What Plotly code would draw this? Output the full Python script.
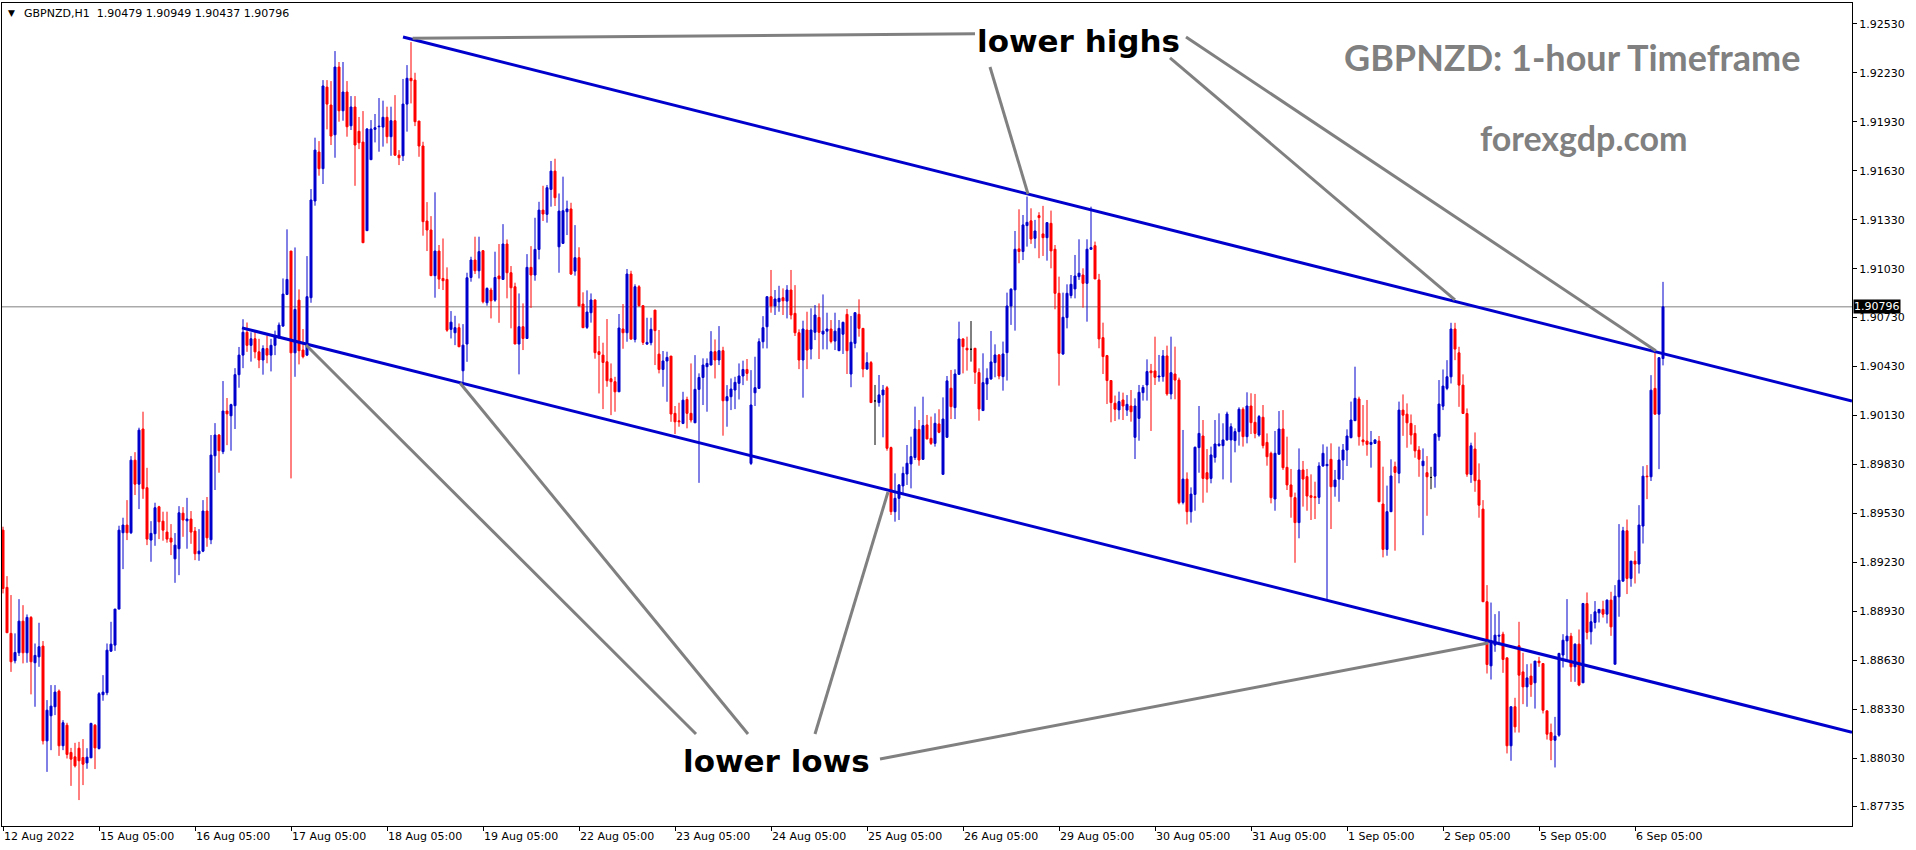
import plotly.graph_objects as go

# ---------------- data (GBPNZD H1, 12 Aug 2022 05:00 -> 6 Sep 2022 12:00) ----------------
opens = [
1.89427,1.89076,1.88794,1.88626,1.88675,1.88869,1.88675,1.88892,1.88614,1.88650,
1.88716,1.88135,1.88289,1.88344,1.88440,1.88105,1.88231,1.88064,1.88037,1.88090,
1.88033,1.88000,1.88031,1.88231,1.88088,1.88418,1.88430,1.88685,1.88722,1.88943,
1.89411,1.89458,1.89411,1.89856,1.89709,1.90047,1.89687,1.89366,1.89405,1.89570,
1.89482,1.89415,1.89378,1.89251,1.89313,1.89531,1.89484,1.89495,1.89421,1.89282,
1.89298,1.89544,1.89368,1.89883,1.90010,1.89908,1.90157,1.90128,1.90190,1.90380,
1.90500,1.90640,1.90560,1.90600,1.90520,1.90470,1.90540,1.90500,1.90560,1.90613,
1.90678,1.90872,1.91138,1.90514,1.90837,1.90531,1.90500,1.90852,1.91445,1.91745,
1.91643,1.92143,1.92033,1.91851,1.92266,1.91998,1.92113,1.91906,1.92021,1.91872,
1.91806,1.91263,1.91698,1.91884,1.91900,1.91898,1.91958,1.91839,1.91937,1.91726,
1.91722,1.92039,1.92197,1.92186,1.91935,1.91782,1.91322,1.91267,1.90987,1.91138,
1.90970,1.90964,1.90658,1.90637,1.90668,1.90404,1.90568,1.90976,1.91083,1.91017,
1.91140,1.90821,1.90899,1.90837,1.90985,1.90964,1.91181,1.91005,1.90919,1.90568,
1.90674,1.90602,1.91038,1.90991,1.91148,1.91389,1.91363,1.91516,1.91628,1.91164,
1.91185,1.91379,1.91396,1.91015,1.91097,1.90813,1.90670,1.90760,1.90838,1.90521,
1.90500,1.90459,1.90355,1.90337,1.90275,1.90660,1.90637,1.90997,1.90596,1.90919,
1.90803,1.90568,1.90576,1.90776,1.90506,1.90412,1.90464,1.90494,1.90143,1.90097,
1.90081,1.90228,1.90143,1.90085,1.90290,1.90363,1.90429,1.90439,1.90521,1.90470,
1.90527,1.90220,1.90245,1.90286,1.90327,1.90372,1.90412,1.89836,1.90269,1.90296,
1.90582,1.90674,1.90858,1.90801,1.90827,1.90852,1.90831,1.90899,1.90756,1.90637,
1.90470,1.90654,1.90537,1.90640,1.90731,1.90629,1.90647,1.90660,1.90586,1.90527,
1.90628,1.90750,1.90384,1.90572,1.90750,1.90664,1.90415,1.90454,1.90219,1.90209,
1.90256,1.90300,1.89933,1.89540,1.89622,1.89698,1.89771,1.89833,1.89872,1.90045,
1.89861,1.90072,1.89990,1.89959,1.90078,1.89769,1.89996,1.90297,1.90178,1.90382,
1.90599,1.90542,1.90536,1.90542,1.90393,1.90160,1.90323,1.90354,1.90454,1.90501,
1.90368,1.90515,1.90801,1.90900,1.91151,1.91135,1.91294,1.91323,1.91216,1.91355,
1.91243,1.91220,1.91308,1.91149,1.90879,1.90507,1.90730,1.90865,1.90906,1.90981,
1.90991,1.90940,1.91149,1.91171,1.90961,1.90607,1.90497,1.90344,1.90205,1.90164,
1.90225,1.90163,1.90188,1.89996,1.90112,1.90270,1.90317,1.90403,1.90403,1.90366,
1.90368,1.90495,1.90262,1.90384,1.90347,1.89597,1.89740,1.89540,1.89646,1.89933,
1.90004,1.89779,1.89744,1.89873,1.89945,1.89945,1.89980,1.89980,1.89976,1.90031,
1.90168,1.90000,1.90188,1.90088,1.90010,1.90119,1.89965,1.89898,1.89618,1.89892,
1.90047,1.89812,1.89704,1.89626,1.89473,1.89796,1.89755,1.89638,1.89632,1.89628,
1.89820,1.89822,1.89861,1.89693,1.89740,1.89857,1.89918,1.89994,1.90098,1.90231,
1.89980,1.89973,1.89953,1.89959,1.89973,1.89587,1.89309,1.89540,1.89816,1.89775,
1.90163,1.90138,1.90081,1.90020,1.89918,1.89822,1.89779,1.89750,1.89758,1.90000,
1.90187,1.90296,1.90367,1.90660,1.90514,1.90316,1.90142,1.89768,1.89924,1.89734,
1.89556,1.88988,1.88595,1.88722,1.88777,1.88789,1.88644,1.88105,1.88344,1.88718,
1.88558,1.88466,1.88532,1.88491,1.88624,1.88609,1.88319,1.88186,1.88139,1.88170,
1.88661,1.88748,1.88777,1.88589,1.88728,1.88491,1.88977,1.88804,1.88861,1.88920,
1.88941,1.88912,1.88998,1.88605,1.89018,1.89114,1.89423,1.89131,1.89237,1.89219,
1.89452,1.89758,1.89754,1.90296,1.90138,1.90479]

highs = [
1.89448,1.89145,1.89029,1.88794,1.89004,1.88967,1.88910,1.88900,1.88732,1.88859,
1.88747,1.88385,1.88477,1.88477,1.88450,1.88262,1.88246,1.88092,1.88123,1.88129,
1.88146,1.88090,1.88246,1.88238,1.88434,1.88538,1.88732,1.88865,1.88943,1.89454,
1.89503,1.89611,1.89881,1.89905,1.90055,1.90153,1.89809,1.89482,1.89595,1.89576,
1.89540,1.89540,1.89464,1.89409,1.89574,1.89568,1.89625,1.89544,1.89446,1.89433,
1.89611,1.89630,1.90010,1.90083,1.90016,1.90341,1.90237,1.90202,1.90420,1.90550,
1.90720,1.90700,1.90640,1.90650,1.90600,1.90560,1.90620,1.90600,1.90650,1.90700,
1.90970,1.91271,1.91138,1.91160,1.90903,1.90660,1.91107,1.91518,1.91833,1.91812,
1.92186,1.92186,1.92180,1.92364,1.92297,1.92297,1.92180,1.92088,1.92088,1.91960,
1.91996,1.91892,1.91941,1.91978,1.92076,1.92060,1.92023,1.92023,1.92094,1.91757,
1.92193,1.92278,1.92419,1.92231,1.91935,1.91808,1.91438,1.91352,1.91498,1.91175,
1.91215,1.91038,1.90770,1.90741,1.90694,1.90690,1.91005,1.91103,1.91226,1.91226,
1.91144,1.90915,1.90913,1.91134,1.91181,1.91303,1.91209,1.91046,1.90944,1.90878,
1.90817,1.91119,1.91168,1.91342,1.91440,1.91538,1.91543,1.91690,1.91704,1.91491,
1.91594,1.91447,1.91434,1.91297,1.91161,1.90885,1.90897,1.90878,1.90842,1.90617,
1.90576,1.90721,1.90449,1.90367,1.90752,1.90813,1.91028,1.91017,1.90934,1.90929,
1.90803,1.90729,1.90729,1.90776,1.90654,1.90525,1.90521,1.90494,1.90188,1.90208,
1.90275,1.90245,1.90449,1.90500,1.90388,1.90480,1.90480,1.90647,1.90596,1.90678,
1.90551,1.90316,1.90357,1.90367,1.90449,1.90466,1.90476,1.90408,1.90490,1.90603,
1.90739,1.90858,1.91022,1.90899,1.90925,1.90909,1.90929,1.91022,1.90929,1.90658,
1.90711,1.90766,1.90787,1.90807,1.90817,1.90872,1.90760,1.90715,1.90760,1.90715,
1.90705,1.90783,1.90740,1.90760,1.90842,1.90664,1.90517,1.90464,1.90317,1.90378,
1.90317,1.90311,1.89939,1.89775,1.89710,1.89816,1.89949,1.90000,1.90184,1.90102,
1.90245,1.90133,1.90123,1.90143,1.90168,1.90241,1.90372,1.90409,1.90413,1.90705,
1.90603,1.90613,1.90709,1.90542,1.90419,1.90511,1.90419,1.90648,1.90566,1.90507,
1.90583,1.90883,1.90910,1.91261,1.91394,1.91359,1.91472,1.91400,1.91329,1.91376,
1.91415,1.91314,1.91386,1.91175,1.90981,1.90883,1.90934,1.90991,1.91114,1.91210,
1.91032,1.91210,1.91410,1.91196,1.90998,1.90699,1.90501,1.90344,1.90252,1.90276,
1.90270,1.90255,1.90286,1.90235,1.90317,1.90317,1.90474,1.90446,1.90613,1.90501,
1.90531,1.90558,1.90613,1.90552,1.90362,1.90041,1.89781,1.89689,1.89939,1.90188,
1.90102,1.89924,1.89939,1.90102,1.90143,1.90082,1.90153,1.90082,1.90051,1.90180,
1.90180,1.90272,1.90266,1.90262,1.90133,1.90194,1.90020,1.89908,1.90035,1.90157,
1.90163,1.90000,1.89802,1.89657,1.89928,1.89851,1.89802,1.89769,1.89724,1.89843,
1.89953,1.89939,1.89959,1.89796,1.89939,1.89955,1.90045,1.90215,1.90429,1.90245,
1.90194,1.90225,1.90035,1.89984,1.90004,1.89816,1.89700,1.89861,1.89847,1.90215,
1.90259,1.90204,1.90136,1.90071,1.89942,1.89928,1.89881,1.89815,1.90020,1.90347,
1.90412,1.90469,1.90698,1.90698,1.90551,1.90382,1.90173,1.89963,1.90026,1.89836,
1.89611,1.89090,1.88983,1.88912,1.88930,1.88804,1.88644,1.88344,1.88399,1.88865,
1.88675,1.88605,1.88609,1.88624,1.88650,1.88609,1.88319,1.88241,1.88282,1.88675,
1.88789,1.89004,1.88797,1.88732,1.88818,1.88981,1.89045,1.88912,1.88992,1.88943,
1.88994,1.89002,1.89049,1.89090,1.89464,1.89447,1.89492,1.89237,1.89298,1.89580,
1.89819,1.89826,1.90377,1.90525,1.90486,1.90949]

lows = [
1.89039,1.88798,1.88558,1.88610,1.88655,1.88610,1.88614,1.88420,1.88344,1.88589,
1.88113,1.87945,1.88078,1.88293,1.88043,1.88078,1.88027,1.87859,1.87972,1.87772,
1.87864,1.87964,1.88031,1.87962,1.88082,1.88381,1.88415,1.88681,1.88687,1.88943,
1.89188,1.89366,1.89403,1.89642,1.89556,1.89619,1.89335,1.89233,1.89331,1.89372,
1.89362,1.89350,1.89274,1.89104,1.89151,1.89386,1.89313,1.89343,1.89243,1.89239,
1.89292,1.89325,1.89341,1.89673,1.89779,1.89893,1.89948,1.89914,1.90047,1.90300,
1.90420,1.90520,1.90460,1.90480,1.90420,1.90380,1.90450,1.90400,1.90500,1.90600,
1.90674,1.90868,1.89744,1.90367,1.90443,1.90480,1.90494,1.90821,1.91416,1.91600,
1.91549,1.91884,1.91788,1.91710,1.91931,1.91937,1.91839,1.91880,1.91538,1.91763,
1.91189,1.91263,1.91698,1.91804,1.91747,1.91778,1.91798,1.91722,1.91722,1.91665,
1.91690,1.91870,1.92043,1.91904,1.91716,1.91232,1.91138,1.90987,1.90852,1.90905,
1.90899,1.90643,1.90602,1.90561,1.90551,1.90330,1.90459,1.90950,1.90997,1.90970,
1.90817,1.90803,1.90725,1.90827,1.90698,1.90964,1.90848,1.90664,1.90568,1.90382,
1.90531,1.90602,1.90790,1.90956,1.91087,1.91322,1.91312,1.91410,1.91414,1.91005,
1.91181,1.91236,1.90991,1.90987,1.90801,1.90668,1.90660,1.90699,1.90478,1.90265,
1.90169,1.90306,1.90132,1.90153,1.90275,1.90539,1.90582,1.90598,1.90578,1.90797,
1.90562,1.90562,1.90560,1.90439,1.90388,1.90306,1.90214,1.90091,1.90016,1.90061,
1.90077,1.90051,1.90087,1.90085,1.89717,1.90194,1.90153,1.90439,1.90357,1.90439,
1.90006,1.90061,1.90163,1.90169,1.90228,1.90316,1.90343,1.89826,1.90188,1.90294,
1.90541,1.90541,1.90760,1.90746,1.90766,1.90746,1.90725,1.90719,1.90617,1.90414,
1.90239,1.90414,1.90474,1.90592,1.90476,1.90535,1.90535,1.90572,1.90531,1.90527,
1.90507,1.90384,1.90303,1.90542,1.90613,1.90364,1.90409,1.90209,1.89949,1.90184,
1.89996,1.89914,1.89520,1.89479,1.89489,1.89642,1.89704,1.89683,1.89857,1.89822,
1.89857,1.89984,1.89949,1.89939,1.90021,1.89769,1.89996,1.90108,1.90108,1.90382,
1.90388,1.90405,1.90460,1.90323,1.90098,1.90160,1.90225,1.90348,1.90364,1.90352,
1.90282,1.90344,1.90685,1.90650,1.91063,1.91083,1.91165,1.91182,1.91155,1.91094,
1.91108,1.91079,1.91032,1.90781,1.90313,1.90501,1.90664,1.90848,1.90848,1.90961,
1.90791,1.90705,1.91145,1.90967,1.90542,1.90384,1.90200,1.90088,1.90096,1.90106,
1.90102,1.90127,1.90092,1.89863,1.89975,1.90221,1.90221,1.90035,1.90317,1.90337,
1.90337,1.90251,1.90229,1.90229,1.89585,1.89585,1.89462,1.89473,1.89546,1.89779,
1.89595,1.89657,1.89714,1.89841,1.89939,1.89738,1.89976,1.89718,1.89904,1.89945,
1.89939,1.89959,1.90016,1.89990,1.90000,1.89928,1.89822,1.89591,1.89546,1.89892,
1.89796,1.89673,1.89503,1.89227,1.89377,1.89571,1.89546,1.89489,1.89495,1.89587,
1.89816,1.88998,1.89434,1.89632,1.89601,1.89734,1.89820,1.89990,1.90098,1.89945,
1.89945,1.89883,1.89810,1.89955,1.89601,1.89260,1.89270,1.89540,1.89301,1.89714,
1.90005,1.89932,1.89952,1.89871,1.89754,1.89396,1.89515,1.89678,1.89687,1.89975,
1.90163,1.90285,1.90326,1.90469,1.90183,1.90142,1.89754,1.89717,1.89662,1.89503,
1.88988,1.88548,1.88511,1.88681,1.88722,1.88552,1.88058,1.88013,1.88186,1.88186,
1.88360,1.88344,1.88405,1.88333,1.88589,1.88303,1.88143,1.88017,1.87972,1.88160,
1.88585,1.88626,1.88497,1.88497,1.88470,1.88491,1.88757,1.88726,1.88824,1.88861,
1.88891,1.88855,1.88779,1.88605,1.88896,1.89114,1.89035,1.89080,1.89100,1.89161,
1.89345,1.89617,1.89728,1.90138,1.89801,1.90437]

closes = [
1.89069,1.88798,1.88620,1.88677,1.88869,1.88675,1.88892,1.88620,1.88659,1.88712,
1.88135,1.88323,1.88348,1.88434,1.88105,1.88246,1.88052,1.88023,1.87982,1.88013,
1.87992,1.88035,1.88242,1.88092,1.88424,1.88434,1.88691,1.88728,1.88943,1.89427,
1.89458,1.89411,1.89856,1.89709,1.90040,1.89681,1.89372,1.89407,1.89564,1.89478,
1.89427,1.89372,1.89354,1.89335,1.89533,1.89489,1.89495,1.89415,1.89282,1.89298,
1.89544,1.89380,1.89887,1.90010,1.89914,1.90157,1.90140,1.90196,1.90380,1.90500,
1.90640,1.90560,1.90600,1.90520,1.90470,1.90540,1.90500,1.90560,1.90613,1.90684,
1.90874,1.90964,1.90514,1.90780,1.90527,1.90490,1.90858,1.91451,1.91757,1.91643,
1.92150,1.92039,1.91843,1.92266,1.91998,1.92113,1.91900,1.92021,1.91788,1.91802,
1.91189,1.91886,1.91886,1.91894,1.91904,1.91958,1.91839,1.91937,1.91726,1.91710,
1.92039,1.92197,1.92182,1.91931,1.91782,1.91318,1.91267,1.90987,1.91138,1.90966,
1.90956,1.90653,1.90702,1.90668,1.90551,1.90561,1.90974,1.91083,1.91017,1.91134,
1.90827,1.90909,1.90833,1.90976,1.90968,1.91181,1.91005,1.90913,1.90568,1.90674,
1.90602,1.91038,1.90991,1.91148,1.91389,1.91365,1.91526,1.91628,1.91465,1.91383,
1.91385,1.91396,1.90997,1.91097,1.90801,1.90668,1.90764,1.90838,1.90515,1.90504,
1.90455,1.90343,1.90337,1.90275,1.90666,1.90637,1.90997,1.90598,1.90919,1.90803,
1.90578,1.90578,1.90658,1.90650,1.90412,1.90464,1.90486,1.90139,1.90091,1.90091,
1.90224,1.90143,1.90102,1.90290,1.90363,1.90439,1.90449,1.90521,1.90470,1.90527,
1.90220,1.90245,1.90292,1.90333,1.90372,1.90412,1.90388,1.90194,1.90300,1.90582,
1.90668,1.90858,1.90801,1.90844,1.90848,1.90833,1.90899,1.90746,1.90637,1.90470,
1.90660,1.90531,1.90654,1.90746,1.90640,1.90647,1.90660,1.90584,1.90647,1.90664,
1.90701,1.90527,1.90579,1.90760,1.90664,1.90415,1.90454,1.90209,1.90219,1.90256,
1.90286,1.89929,1.89540,1.89622,1.89704,1.89775,1.89837,1.89878,1.90047,1.89857,
1.90068,1.89986,1.89959,1.90082,1.90027,1.90108,1.90342,1.90184,1.90384,1.90599,
1.90552,1.90532,1.90536,1.90395,1.90170,1.90331,1.90358,1.90458,1.90501,1.90372,
1.90507,1.90801,1.90904,1.91149,1.91135,1.91298,1.91314,1.91212,1.91261,1.91343,
1.91220,1.91312,1.91139,1.90879,1.90511,1.90732,1.90879,1.90934,1.90985,1.91002,
1.90940,1.91149,1.91159,1.90967,1.90599,1.90491,1.90344,1.90209,1.90168,1.90215,
1.90188,1.90198,1.90153,1.90188,1.90272,1.90302,1.90399,1.90392,1.90364,1.90372,
1.90495,1.90262,1.90392,1.90347,1.89595,1.89740,1.89540,1.89648,1.89935,1.90020,
1.89744,1.89740,1.89888,1.89955,1.89955,1.89980,1.90139,1.90061,1.90031,1.90168,
1.90000,1.90188,1.90086,1.90020,1.90123,1.89945,1.89877,1.89626,1.89898,1.90047,
1.89810,1.89704,1.89632,1.89473,1.89796,1.89740,1.89636,1.89628,1.89626,1.89820,
1.89898,1.89830,1.89693,1.89734,1.89857,1.89918,1.90004,1.90102,1.90235,1.90000,
1.89969,1.89953,1.89965,1.89980,1.89601,1.89309,1.89540,1.89759,1.89781,1.90163,
1.90132,1.90085,1.90010,1.89913,1.89862,1.89850,1.89754,1.89750,1.90016,1.90200,
1.90310,1.90367,1.90660,1.90537,1.90316,1.90142,1.89770,1.89944,1.89730,1.89580,
1.88988,1.88603,1.88748,1.88783,1.88783,1.88634,1.88105,1.88344,1.88221,1.88538,
1.88466,1.88521,1.88481,1.88624,1.88614,1.88323,1.88176,1.88139,1.88164,1.88671,
1.88752,1.88777,1.88589,1.88728,1.88477,1.88977,1.88800,1.88865,1.88926,1.88941,
1.88912,1.88998,1.88834,1.89022,1.89120,1.89423,1.89131,1.89237,1.89219,1.89458,
1.89758,1.89754,1.90285,1.90138,1.90484,1.90796]

# x-axis day labels (one label every 24 hourly bars, starting at bar 0)
day_labels = ["12 Aug 2022", "15 Aug 05:00", "16 Aug 05:00", "17 Aug 05:00", "18 Aug 05:00",
              "19 Aug 05:00", "22 Aug 05:00", "23 Aug 05:00", "24 Aug 05:00", "25 Aug 05:00",
              "26 Aug 05:00", "29 Aug 05:00", "30 Aug 05:00", "31 Aug 05:00", "1 Sep 05:00",
              "2 Sep 05:00", "5 Sep 05:00", "6 Sep 05:00"]
bars_per_label = 24

# y-axis price ticks
price_ticks = [1.92530, 1.92230, 1.91930, 1.91630, 1.91330, 1.91030, 1.90730, 1.90430, 1.90130,
               1.89830, 1.89530, 1.89230, 1.88930, 1.88630, 1.88330, 1.88030, 1.87735]
last_price = 1.90796

# channel trend lines: (bar index, price) endpoints
upper_channel_x = [100, 462.25]
upper_channel_y = [1.92450, 1.90218]
lower_channel_x = [59.75, 462.25]
lower_channel_y = [1.90667, 1.88188]

# grey pointer lines from the labels (bar index, price)
pointer_x = [[102.4, 243], [246.75, 256.25], [295.75, 413.2], [291.75, 363],
             [75.75, 173.25], [114.25, 186.25], [221.25, 203], [219.25, 371.25]]
pointer_y = [[1.92442, 1.92470], [1.92266, 1.91488], [1.92450, 1.90527], [1.92322, 1.90838],
             [1.90562, 1.88177], [1.90329, 1.88177], [1.89661, 1.88177], [1.88024, 1.88735]]

# ---------------- figure ----------------
BLUE = "#0000CD"
RED = "#FF0000"
BLACK = "#000000"
GREY = "#808080"
FONT = "DejaVu Sans"

bar_index = list(range(len(opens)))
groups = [
    (BLUE, [i for i in bar_index if closes[i] > opens[i]]),
    (RED, [i for i in bar_index if closes[i] < opens[i]]),
    (BLACK, [i for i in bar_index if closes[i] == opens[i]]),
]

fig = go.Figure()
for color, idx in groups:
    if not idx:
        continue
    wx, wy = [], []
    for i in idx:
        wx += [i, i, None]
        wy += [lows[i], highs[i], None]
    fig.add_trace(go.Scatter(x=wx, y=wy, mode="lines", line=dict(color=color, width=1),
                             showlegend=False, hoverinfo="skip"))
    fig.add_trace(go.Bar(
        x=idx,
        y=[abs(closes[i] - opens[i]) for i in idx],
        base=[min(opens[i], closes[i]) for i in idx],
        width=0.5, marker=dict(color=color, line=dict(color=color, width=1)),
        showlegend=False, hoverinfo="skip"))

for xs, ys in [(upper_channel_x, upper_channel_y), (lower_channel_x, lower_channel_y)]:
    fig.add_trace(go.Scatter(x=xs, y=ys, mode="lines", line=dict(color=BLUE, width=3),
                             showlegend=False, hoverinfo="skip"))

for xs, ys in zip(pointer_x, pointer_y):
    fig.add_trace(go.Scatter(x=xs, y=ys, mode="lines", line=dict(color=GREY, width=3),
                             showlegend=False, hoverinfo="skip"))

fig.add_shape(type="line", xref="paper", x0=0, x1=1, yref="y", y0=last_price, y1=last_price,
              line=dict(color=GREY, width=1), layer="below")

annotations = [
    dict(text="<b>lower highs</b>", x=268.75, y=1.92426, xref="x", yref="y",
         showarrow=False, font=dict(family=FONT, size=31, color="black")),
    dict(text="<b>lower lows</b>", x=193.25, y=1.88012, xref="x", yref="y",
         showarrow=False, font=dict(family=FONT, size=31, color="black")),
    dict(text="<b>GBPNZD: 1-hour Timeframe</b>", x=449.75, y=1.92328, xref="x", yref="y",
         xanchor="right", showarrow=False, font=dict(family="Lato", size=36, color=GREY)),
    dict(text="<b>forexgdp.com</b>", x=421.75, y=1.91837, xref="x", yref="y",
         xanchor="right", showarrow=False, font=dict(family="Lato", size=34, color=GREY)),
    dict(text="GBPNZD,H1&nbsp;&nbsp;1.90479 1.90949 1.90437 1.90796", x=0, y=1, xref="paper",
         yref="paper", xanchor="left", yanchor="middle", xshift=20, yshift=-10,
         showarrow=False, font=dict(family=FONT, size=11, color="black")),
    dict(text="▼", x=0, y=1, xref="paper", yref="paper", xanchor="left", yanchor="middle",
         xshift=4, yshift=-10, showarrow=False, font=dict(family=FONT, size=9, color="black")),
    dict(text="%.5f" % last_price, x=1, y=last_price, xref="paper", yref="y", xanchor="left",
         yanchor="middle", xshift=1, showarrow=False, bgcolor="black", borderpad=0,
         font=dict(family=FONT, size=11, color="white")),
]

fig.update_layout(
    width=1916, height=850,
    margin=dict(l=2, r=64, t=3, b=24),
    paper_bgcolor="white", plot_bgcolor="white",
    showlegend=False, hovermode=False, barmode="overlay",
    font=dict(family=FONT, size=11, color="black"),
    annotations=annotations,
)
fig.update_xaxes(
    range=[-0.25, 462.25],
    tickvals=[i * bars_per_label for i in range(len(day_labels))], ticktext=day_labels,
    ticks="outside", ticklen=4, tickcolor="black", ticklabelposition="outside right",
    showline=True, linecolor="black", linewidth=1, mirror=True,
    showgrid=False, zeroline=False, automargin=False,
    tickfont=dict(family=FONT, size=11, color="black"))
fig.update_yaxes(
    side="right", range=[1.876131, 1.926587],
    tickvals=price_ticks, ticktext=["%.5f" % v for v in price_ticks],
    ticks="outside", ticklen=4, tickcolor="black",
    showline=True, linecolor="black", linewidth=1, mirror=True,
    showgrid=False, zeroline=False, automargin=False,
    tickfont=dict(family=FONT, size=11, color="black"))

fig.write_html("out.html", config={"displayModeBar": False},
               post_script="document.body.style.margin='0px';document.body.style.overflow='hidden';")
